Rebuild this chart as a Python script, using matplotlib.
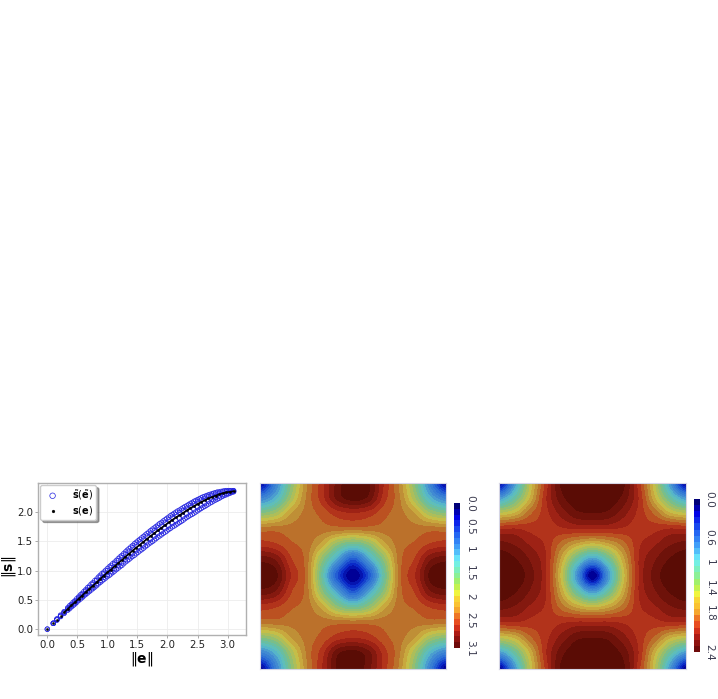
import numpy as np
import matplotlib.pyplot as plt
from matplotlib.colors import ListedColormap, BoundaryNorm, LinearSegmentedColormap

W, H = 718, 699

# scatter values
e_vals = [0.0,0.1,0.16,0.22,0.28,0.34,0.40,0.46,0.52,0.58,0.64,0.70,0.76,0.82,0.88,0.94,1.00,1.06,1.12,1.18,1.24,1.30,1.36,1.42,1.48,1.54,1.60,1.66,1.72,1.78,1.84,1.90,1.96,2.02,2.08,2.14,2.20,2.26,2.32,2.38,2.44,2.50,2.56,2.62,2.68,2.74,2.80,2.86,2.92,2.98,3.04,3.10]
s_true = [0,.10,.165,.225,.285,.345,.405,.46,.52,.575,.635,.69,.745,.80,.86,.915,.97,1.02,1.075,1.13,1.18,1.24,1.29,1.345,1.395,1.445,1.495,1.545,1.595,1.64,1.69,1.735,1.78,1.825,1.87,1.91,1.95,1.99,2.03,2.07,2.105,2.14,2.175,2.205,2.235,2.26,2.285,2.305,2.325,2.34,2.35,2.36]
s_hi = [0,.10,.175,.24,.30,.365,.425,.485,.55,.61,.675,.735,.795,.855,.92,.975,1.035,1.09,1.145,1.205,1.26,1.32,1.375,1.43,1.485,1.535,1.585,1.635,1.685,1.73,1.78,1.825,1.87,1.915,1.96,2.0,2.035,2.075,2.11,2.15,2.185,2.215,2.245,2.27,2.295,2.315,2.335,2.345,2.36,2.37,2.37,2.37]
s_lo = [0,.10,.155,.215,.27,.325,.38,.43,.49,.54,.595,.645,.695,.745,.80,.85,.90,.945,.995,1.045,1.09,1.15,1.195,1.245,1.29,1.34,1.385,1.435,1.48,1.525,1.575,1.615,1.66,1.705,1.75,1.785,1.825,1.865,1.91,1.95,1.985,2.025,2.065,2.10,2.14,2.175,2.21,2.24,2.275,2.30,2.325,2.35]
s_hi2 = [.10,.17,.23,.29,.355,.415,.47,.535,.59,.655,.71,.77,.83,.89,.945,1.0,1.055,1.11,1.17,1.22,1.28,1.33,1.39,1.44,1.49,1.54,1.59,1.64,1.685,1.735,1.78,1.825,1.87,1.915,1.955,1.995,2.03,2.07,2.11,2.145,2.18,2.21,2.24,2.265,2.29,2.31,2.325,2.345,2.355,2.36,2.365]
s_lo2 = [.10,.16,.22,.28,.335,.39,.445,.505,.56,.615,.67,.72,.775,.83,.885,.935,.985,1.035,1.09,1.135,1.195,1.24,1.295,1.345,1.395,1.44,1.49,1.54,1.585,1.635,1.675,1.72,1.765,1.81,1.85,1.89,1.93,1.97,2.01,2.045,2.085,2.12,2.155,2.19,2.22,2.25,2.275,2.30,2.32,2.34,2.355]
# second chain of circles, sitting between the first ones
e_mid = [.37,.43,.49,.55,.61,.67,.73,.79,.85,.91,.97,1.03,1.09,1.15,1.21,1.27,1.33,1.39,1.45,1.51,1.57,1.63,1.69,1.75,1.81,1.87,1.93,1.99,2.05,2.11,2.17,2.23,2.29,2.35,2.41,2.47,2.53,2.59,2.65,2.71,2.77,2.83,2.89,2.95,3.01,3.07]
s_mid_hi = [.40,.46,.52,.585,.645,.71,.77,.83,.89,.95,1.005,1.065,1.12,1.175,1.235,1.29,1.35,1.405,1.46,1.51,1.56,1.61,1.66,1.71,1.755,1.805,1.85,1.895,1.94,1.98,2.02,2.055,2.095,2.13,2.165,2.2,2.23,2.26,2.285,2.305,2.325,2.345,2.355,2.365,2.37,2.37]
s_mid_lo = [.35,.405,.46,.515,.57,.62,.67,.72,.775,.825,.875,.92,.97,1.02,1.07,1.12,1.17,1.22,1.265,1.315,1.36,1.41,1.46,1.5,1.55,1.595,1.64,1.68,1.725,1.765,1.805,1.845,1.89,1.93,1.965,2.005,2.045,2.085,2.12,2.16,2.195,2.225,2.26,2.29,2.315,2.34]

# fields read on a 13x13 grid, top row first
field_e = [
    [0.0,.8,1.6,2.2,2.55,2.9,3.1,3.0,2.6,2.2,1.6,.8,0.0],
    [.8,1.15,1.75,2.25,2.55,2.9,3.05,2.95,2.55,2.25,1.75,1.15,.8],
    [1.6,1.75,2.1,2.28,2.4,2.55,2.6,2.55,2.4,2.28,2.1,1.75,1.6],
    [2.28,2.3,2.28,2.28,2.3,2.3,2.3,2.3,2.3,2.28,2.28,2.3,2.28],
    [2.55,2.5,2.38,2.3,2.05,1.65,1.45,1.65,2.05,2.3,2.38,2.5,2.55],
    [2.95,2.85,2.5,2.3,1.65,1.05,.5,1.05,1.65,2.3,2.5,2.85,2.95],
    [3.1,3.02,2.6,2.3,1.45,.5,0.0,.5,1.45,2.3,2.6,3.02,3.1],
    [2.95,2.85,2.5,2.3,1.65,1.05,.5,1.05,1.65,2.3,2.5,2.85,2.95],
    [2.55,2.5,2.38,2.3,2.05,1.65,1.45,1.65,2.05,2.3,2.38,2.5,2.55],
    [2.28,2.3,2.28,2.28,2.3,2.3,2.3,2.3,2.3,2.28,2.28,2.3,2.28],
    [1.6,1.75,2.1,2.28,2.4,2.55,2.6,2.55,2.4,2.28,2.1,1.75,1.6],
    [.8,1.15,1.75,2.25,2.55,2.95,3.05,2.9,2.55,2.25,1.75,1.15,.8],
    [0.0,.8,1.6,2.2,2.6,3.0,3.1,2.9,2.55,2.2,1.6,.8,0.0],
]
field_s = [
    [0.0,.75,1.45,1.95,2.33,2.4,2.42,2.4,2.33,1.95,1.45,.75,0.0],
    [.75,1.1,1.55,2.0,2.27,2.38,2.4,2.38,2.27,2.0,1.55,1.1,.75],
    [1.45,1.55,1.8,1.98,2.15,2.28,2.3,2.28,2.15,1.98,1.8,1.55,1.45],
    [2.0,2.02,1.98,1.96,2.0,2.03,2.03,2.03,2.0,1.96,1.98,2.02,2.0],
    [2.25,2.2,2.1,2.0,1.78,1.6,1.5,1.6,1.78,2.0,2.1,2.2,2.25],
    [2.38,2.32,2.2,2.03,1.6,1.1,.75,1.1,1.6,2.03,2.2,2.32,2.38],
    [2.42,2.38,2.25,2.03,1.5,.75,0.0,.75,1.5,2.03,2.25,2.38,2.42],
    [2.38,2.32,2.2,2.03,1.6,1.1,.75,1.1,1.6,2.03,2.2,2.32,2.38],
    [2.25,2.2,2.1,2.0,1.78,1.6,1.5,1.6,1.78,2.0,2.1,2.2,2.25],
    [2.0,2.02,1.98,1.96,2.0,2.03,2.03,2.03,2.0,1.96,1.98,2.02,2.0],
    [1.45,1.55,1.8,1.98,2.15,2.28,2.3,2.28,2.15,1.98,1.8,1.55,1.45],
    [.75,1.1,1.55,2.0,2.27,2.38,2.4,2.38,2.27,2.0,1.55,1.1,.75],
    [0.0,.75,1.45,1.95,2.33,2.4,2.42,2.4,2.33,1.95,1.45,.75,0.0],
]
ticks_e = [0.0, 0.5, 1, 1.5, 2, 2.5, 3.1]
ticklabels_e = ['0.0', '0.5', '1', '1.5', '2', '2.5', '3.1']
ticks_s = [0.0, 0.6, 1, 1.4, 1.8, 2.4]
ticklabels_s = ['0.0', '0.6', '1', '1.4', '1.8', '2.4']

# colour stops: position along the scale, muted surface colour, brighter colourbar colour
stops = [0, .08, .19, .31, .39, .48, .56, .63, .68, .73, .78, .85, .92, 1]
surf_colors = ['#000096', '#0a28c8', '#2a6cd6', '#4690d2', '#5abec8', '#6ebe96', '#a0be64', '#c8be46',
               '#c8a03c', '#b98232', '#be5a23', '#af2819', '#82190f', '#5a0c05']
bar_colors = ['#000078', '#0000e6', '#1e5af0', '#46aafa', '#6ef0fa', '#82f0aa', '#aaf05a', '#f5f53c',
              '#fac832', '#fabe32', '#f08228', '#e63c1e', '#aa1914', '#6e0a0a']
n_bands = 25
blue = '#2222e0'


def axes_px(x0, y0, x1, y1):
    return fig.add_axes([x0 / W, 1 - y1 / H, (x1 - x0) / W, (y1 - y0) / H])


def surface(box, field, vmax):
    ax = axes_px(*box)
    levels = np.linspace(0, vmax, n_bands + 1)
    cmap = LinearSegmentedColormap.from_list('surf', list(zip(stops, surf_colors)), N=n_bands)
    half = 1 / 24
    ax.imshow(field, extent=[-half, 1 + half, -half, 1 + half], cmap=cmap, norm=BoundaryNorm(levels, n_bands),
              interpolation='catrom', interpolation_stage='data', aspect='auto')
    ax.set_xlim(0, 1)
    ax.set_ylim(0, 1)
    ax.set_xticks([])
    ax.set_yticks([])
    for sp in ax.spines.values():
        sp.set_color('#d5d5e5')
        sp.set_linewidth(0.8)


def colorbar(box, vmax, ticks, labels):
    ax = axes_px(*box)
    cmap = LinearSegmentedColormap.from_list('bar', list(zip(stops, bar_colors)), N=n_bands)
    cmap = ListedColormap(cmap(np.arange(n_bands)))
    levels = np.linspace(0, vmax, n_bands + 1)
    ax.pcolormesh([0, 1], levels, np.arange(n_bands).reshape(-1, 1), cmap=cmap)
    ax.set_ylim(vmax, 0)
    ax.set_xticks([])
    ax.yaxis.tick_right()
    ax.set_yticks(ticks)
    ax.set_yticklabels(labels, rotation=-90, fontsize=7.6, color='#3c3c50', va='center')
    ax.tick_params(axis='y', length=0, pad=3.5)
    for sp in ax.spines.values():
        sp.set_visible(False)


fig = plt.figure(figsize=(W / 100, H / 100), dpi=100)

ax = axes_px(38, 483, 245.6, 635)
ring = dict(s=11, facecolors='none', edgecolors=blue, linewidths=0.5)
ax.scatter(e_vals, s_hi, label=r'$\tilde{\mathbf{s}}(\tilde{\mathbf{e}})$', **ring)
ax.scatter(e_vals, s_lo, **ring)
ax.scatter(e_vals[1:], s_hi2, **ring)
ax.scatter(e_vals[1:], s_lo2, **ring)
ax.scatter(e_mid, s_mid_hi, **ring)
ax.scatter(e_mid, s_mid_lo, **ring)
ax.plot(e_vals[4:], s_true[4:], color='black', linewidth=1.1)
ax.scatter(e_vals, s_true, s=3, color='black', linewidths=0.2, label=r'$\mathbf{s}(\mathbf{e})$')
ax.set_xlim(-0.155, 3.3)
ax.set_ylim(-0.10, 2.5)
ax.set_xticks([0, 0.5, 1, 1.5, 2, 2.5, 3])
ax.set_yticks([0, 0.5, 1, 1.5, 2])
ax.set_xticklabels(['0.0', '0.5', '1.0', '1.5', '2.0', '2.5', '3.0'])
ax.set_yticklabels(['0.0', '0.5', '1.0', '1.5', '2.0'])
ax.tick_params(labelsize=7.3, length=2, width=0.5, color='#888888', labelcolor='#222222', pad=1.5)
ax.grid(color='#ececec', linewidth=0.6)
ax.set_axisbelow(True)
for sp in ax.spines.values():
    sp.set_color('#b0b0b0')
    sp.set_linewidth(1)
ax.set_xlabel(r'$\|\mathbf{e}\|$', fontsize=10, labelpad=0)
ax.set_ylabel(r'$\|\mathbf{s}\|$', fontsize=10, labelpad=-1, y=0.45)
ax.legend(loc='upper left', fontsize=7, frameon=True, shadow=True, framealpha=1, borderaxespad=0.2,
          edgecolor='#cccccc', fancybox=True, handletextpad=1.0, labelspacing=0.2, borderpad=0.3, markerscale=1.2)

surface((260, 482.7, 446, 669.3), field_e, 3.1)
colorbar((454.3, 503, 460, 648), 3.1, ticks_e, ticklabels_e)
surface((499.3, 482.7, 685.7, 669.3), field_s, 2.4)
colorbar((694, 499, 699.5, 652), 2.4, ticks_s, ticklabels_s)

fig.savefig('out.png', dpi=100)
